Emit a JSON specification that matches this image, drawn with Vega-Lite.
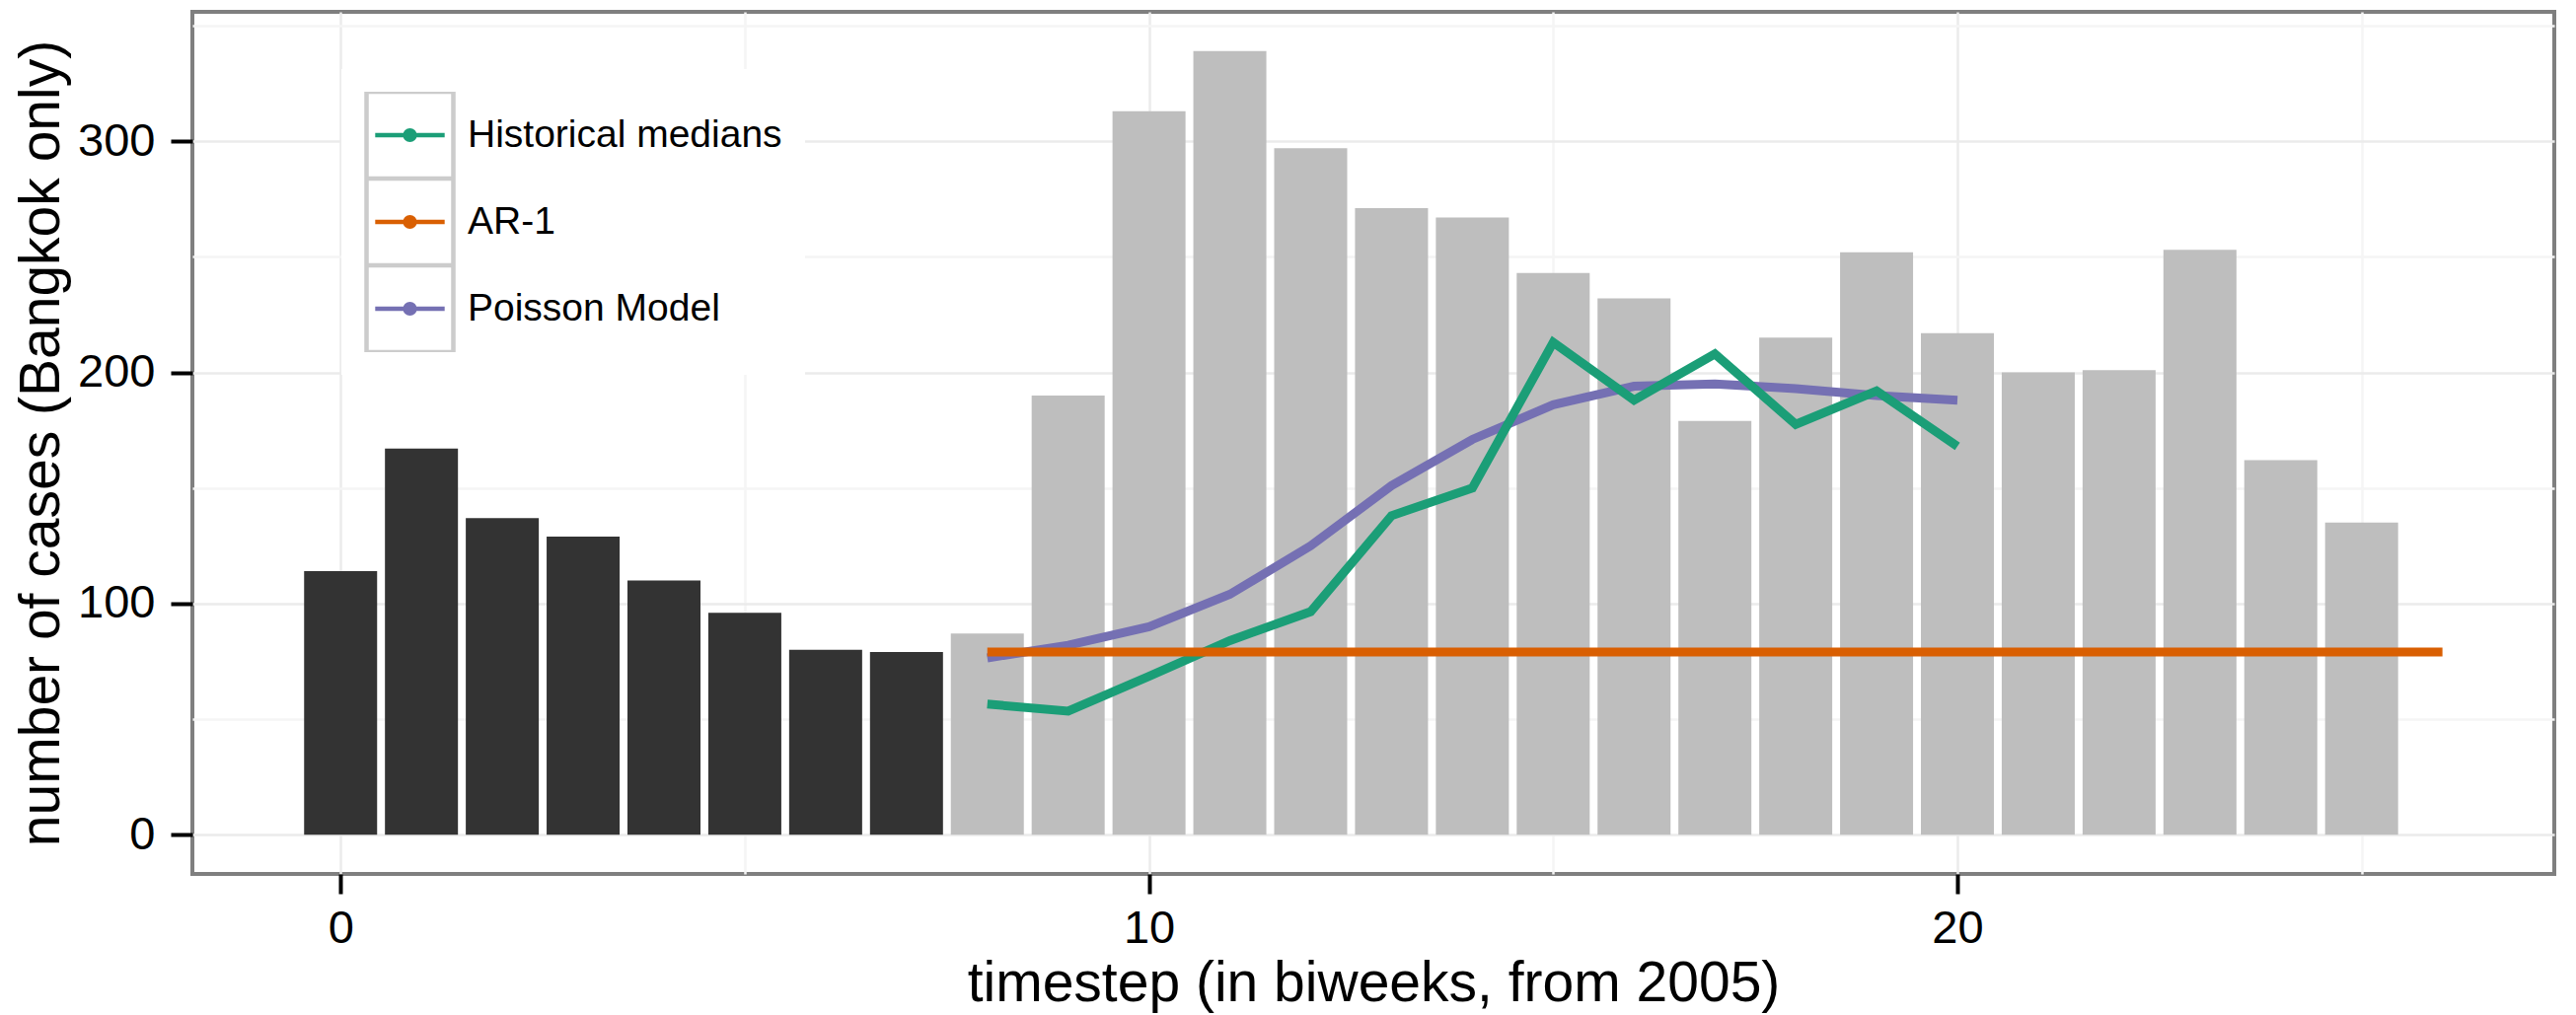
{
  "$schema": "https://vega.github.io/schema/vega-lite/v6.json",
  "width": 2394,
  "height": 874,
  "autosize": {"type": "none"},
  "padding": {"left": 195, "top": 12, "right": 22, "bottom": 143},
  "background": "white",
  "config": {
    "font": "Liberation Sans",
    "view": {"stroke": "#7F7F7F", "strokeWidth": 4}
  },
  "datasets": {
    "cases": [
      {"t": 0, "cases": 114, "phase": "observed"},
      {"t": 1, "cases": 167, "phase": "observed"},
      {"t": 2, "cases": 137, "phase": "observed"},
      {"t": 3, "cases": 129, "phase": "observed"},
      {"t": 4, "cases": 110, "phase": "observed"},
      {"t": 5, "cases": 96, "phase": "observed"},
      {"t": 6, "cases": 80, "phase": "observed"},
      {"t": 7, "cases": 79, "phase": "observed"},
      {"t": 8, "cases": 87, "phase": "forecast"},
      {"t": 9, "cases": 190, "phase": "forecast"},
      {"t": 10, "cases": 313, "phase": "forecast"},
      {"t": 11, "cases": 339, "phase": "forecast"},
      {"t": 12, "cases": 297, "phase": "forecast"},
      {"t": 13, "cases": 271, "phase": "forecast"},
      {"t": 14, "cases": 267, "phase": "forecast"},
      {"t": 15, "cases": 243, "phase": "forecast"},
      {"t": 16, "cases": 232, "phase": "forecast"},
      {"t": 17, "cases": 179, "phase": "forecast"},
      {"t": 18, "cases": 215, "phase": "forecast"},
      {"t": 19, "cases": 252, "phase": "forecast"},
      {"t": 20, "cases": 217, "phase": "forecast"},
      {"t": 21, "cases": 200, "phase": "forecast"},
      {"t": 22, "cases": 201, "phase": "forecast"},
      {"t": 23, "cases": 253, "phase": "forecast"},
      {"t": 24, "cases": 162, "phase": "forecast"},
      {"t": 25, "cases": 135, "phase": "forecast"}
    ],
    "models": [
      {"t": 8, "pred": 76.5, "series": "Poisson Model", "key": "Poisson Model"},
      {"t": 9, "pred": 82, "series": "Poisson Model", "key": "Poisson Model"},
      {"t": 10, "pred": 90, "series": "Poisson Model", "key": "Poisson Model"},
      {"t": 11, "pred": 104, "series": "Poisson Model", "key": "Poisson Model"},
      {"t": 12, "pred": 125, "series": "Poisson Model", "key": "Poisson Model"},
      {"t": 13, "pred": 151, "series": "Poisson Model", "key": "Poisson Model"},
      {"t": 14, "pred": 171, "series": "Poisson Model", "key": "Poisson Model"},
      {"t": 15, "pred": 186, "series": "Poisson Model", "key": "Poisson Model"},
      {"t": 16, "pred": 194, "series": "Poisson Model", "key": "Poisson Model"},
      {"t": 17, "pred": 195, "series": "Poisson Model", "key": "Poisson Model"},
      {"t": 18, "pred": 193, "series": "Poisson Model", "key": "Poisson Model"},
      {"t": 19, "pred": 190, "series": "Poisson Model", "key": "Poisson Model"},
      {"t": 20, "pred": 188, "series": "Poisson Model", "key": "Poisson Model"},
      {"t": 8, "pred": 56.5, "series": "Historical medians", "key": "Historical medians"},
      {"t": 9, "pred": 53.5, "series": "Historical medians", "key": "Historical medians"},
      {"t": 10, "pred": 68.5, "series": "Historical medians", "key": "Historical medians"},
      {"t": 11, "pred": 84, "series": "Historical medians", "key": "Historical medians"},
      {"t": 12, "pred": 96.5, "series": "Historical medians", "key": "Historical medians"},
      {"t": 13, "pred": 138, "series": "Historical medians", "key": "Historical medians"},
      {"t": 14, "pred": 150, "series": "Historical medians", "key": "Historical medians"},
      {"t": 15, "pred": 213, "series": "Historical medians", "key": "Historical medians"},
      {"t": 16, "pred": 188, "series": "Historical medians", "key": "Historical medians"},
      {"t": 17, "pred": 208, "series": "Historical medians", "key": "Historical medians"},
      {"t": 18, "pred": 177.5, "series": "Historical medians", "key": "Historical medians"},
      {"t": 19, "pred": 192, "series": "Historical medians", "key": "Historical medians"},
      {"t": 20, "pred": 168, "series": "Historical medians", "key": "Historical medians"},
      {"t": 8, "pred": 79, "series": "AR-1", "key": "AR-1"},
      {"t": 9, "pred": 79, "series": "AR-1", "key": "AR-1"},
      {"t": 10, "pred": 79, "series": "AR-1", "key": "AR-1"},
      {"t": 11, "pred": 79, "series": "AR-1", "key": "AR-1"},
      {"t": 12, "pred": 79, "series": "AR-1", "key": "AR-1"},
      {"t": 13, "pred": 79, "series": "AR-1", "key": "AR-1"},
      {"t": 14, "pred": 79, "series": "AR-1", "key": "AR-1"},
      {"t": 15, "pred": 79, "series": "AR-1", "key": "AR-1"},
      {"t": 16, "pred": 79, "series": "AR-1", "key": "AR-1"},
      {"t": 17, "pred": 79, "series": "AR-1", "key": "AR-1"},
      {"t": 18, "pred": 79, "series": "AR-1", "key": "AR-1"},
      {"t": 19, "pred": 79, "series": "AR-1", "key": "AR-1"},
      {"t": 20, "pred": 79, "series": "AR-1", "key": "AR-1"},
      {"t": 21, "pred": 79, "series": "AR-1", "key": "AR-1"},
      {"t": 22, "pred": 79, "series": "AR-1", "key": "AR-1"},
      {"t": 23, "pred": 79, "series": "AR-1", "key": "AR-1"},
      {"t": 24, "pred": 79, "series": "AR-1", "key": "AR-1"},
      {"t": 25, "pred": 79, "series": "AR-1", "key": "AR-1"},
      {"t": 26, "pred": 79, "series": "AR-1", "key": "AR-1"}
    ]
  },
  "layer": [
    {
      "data": {"name": "cases"},
      "mark": {"type": "bar", "size": 74},
      "encoding": {
        "x": {
          "field": "t", "type": "quantitative",
          "scale": {"domain": [-1.7725, 27.3225], "nice": false, "zero": false},
          "axis": {
            "orient": "bottom",
            "values": [0, 10, 20],
            "grid": true, "gridColor": "#EBEBEB", "gridWidth": 2.5,
            "domain": false,
            "ticks": true, "tickColor": "#000000", "tickSize": 20, "tickWidth": 4,
            "labelFontSize": 47, "labelColor": "#000000", "labelPadding": 12,
            "title": "timestep (in biweeks, from 2005)",
            "titleFontSize": 57, "titleFontWeight": "normal", "titleColor": "#000000", "titlePadding": 5
          }
        },
        "y": {
          "field": "cases", "type": "quantitative",
          "scale": {"domain": [-16.95, 355.95], "nice": false, "zero": false},
          "axis": {
            "orient": "left",
            "values": [0, 100, 200, 300],
            "grid": true, "gridColor": "#EBEBEB", "gridWidth": 2.5,
            "domain": false,
            "ticks": true, "tickColor": "#000000", "tickSize": 22, "tickWidth": 4,
            "labelFontSize": 47, "labelColor": "#000000", "labelPadding": 16,
            "title": "number of cases (Bangkok only)",
            "titleFontSize": 57, "titleFontWeight": "normal", "titleColor": "#000000", "titlePadding": 7
          }
        },
        "fill": {
          "field": "phase", "type": "nominal",
          "scale": {"domain": ["observed", "forecast"], "range": ["#333333", "#BEBEBE"]},
          "legend": null
        }
      }
    },
    {
      "data": {"name": "models"},
      "mark": {"type": "line", "strokeWidth": 9},
      "encoding": {
        "x": {
          "field": "t", "type": "quantitative",
          "axis": {
            "orient": "bottom", "values": [5, 15, 25],
            "grid": true, "gridColor": "#F5F5F5", "gridWidth": 2.5,
            "labels": false, "ticks": false, "domain": false, "title": null
          }
        },
        "y": {
          "field": "pred", "type": "quantitative",
          "axis": {
            "orient": "left", "values": [50, 150, 250, 350],
            "grid": true, "gridColor": "#F5F5F5", "gridWidth": 2.5,
            "labels": false, "ticks": false, "domain": false, "title": null
          }
        },
        "color": {
          "field": "series", "type": "nominal",
          "scale": {"domain": ["Historical medians", "AR-1", "Poisson Model"], "range": ["#1B9E77", "#D95F02", "#7570B3"]},
          "legend": {
            "title": null,
            "orient": "none", "direction": "vertical",
            "legendX": 151, "legendY": 58,
            "padding": 23, "fillColor": "white",
            "rowPadding": 0, "clipHeight": 88,
            "symbolType": "M0,-1M0,1M-0.8,0H0.8M-0.11,0A0.11,0.11 0 1,0 0.11,0A0.11,0.11 0 1,0 -0.11,0M-0.06,0A0.06,0.06 0 1,0 0.06,0A0.06,0.06 0 1,0 -0.06,0M-0.02,0A0.02,0.02 0 1,0 0.02,0A0.02,0.02 0 1,0 -0.02,0",
            "symbolSize": 7744, "symbolStrokeWidth": 4.5,
            "labelFontSize": 39, "labelColor": "#000000", "labelOffset": 12, "labelLimit": 600,
            "zindex": 1
          }
        },
        "opacity": {
          "field": "key", "type": "ordinal",
          "scale": {"domain": ["AR-1", "Historical medians", "Poisson Model"], "range": [1, 1, 1]},
          "legend": {
            "title": null,
            "orient": "none", "direction": "vertical",
            "legendX": 151, "legendY": 58,
            "padding": 23,
            "rowPadding": 0, "clipHeight": 88,
            "symbolType": "square", "symbolSize": 7744, "symbolStrokeWidth": 4.5,
            "symbolStrokeColor": "#CCCCCC", "symbolFillColor": "transparent", "symbolOpacity": 1,
            "labelExpr": "''", "labelFontSize": 39, "labelOffset": 12,
            "zindex": 2
          }
        }
      }
    }
  ],
  "resolve": {"axis": {"x": "independent", "y": "independent"}}
}
